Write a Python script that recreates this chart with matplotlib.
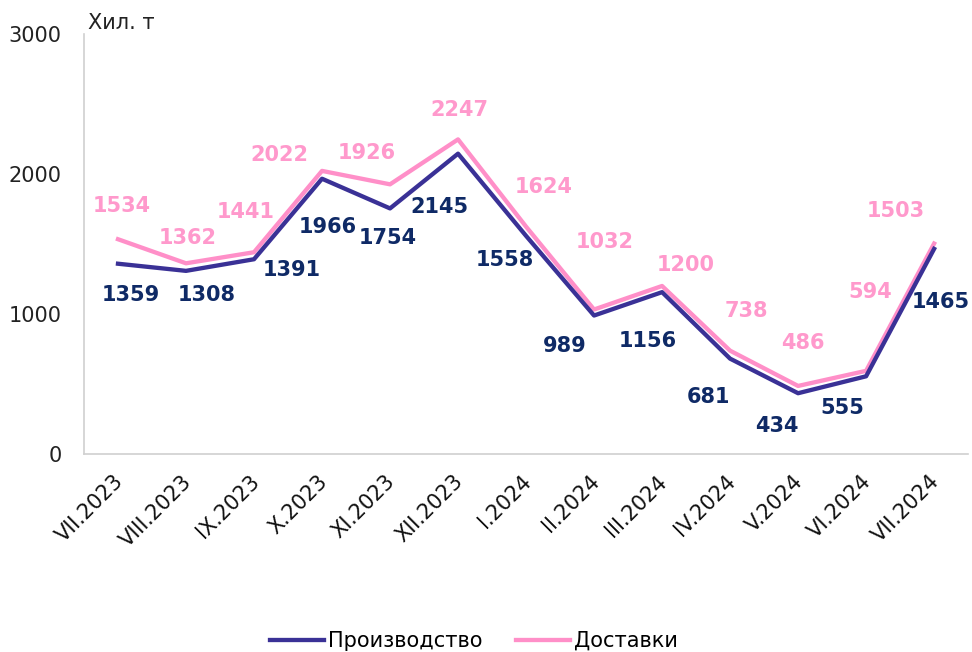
import matplotlib
matplotlib.use("Agg")
import matplotlib.pyplot as plt
from matplotlib.transforms import ScaledTranslation

months = ["VII.2023", "VIII.2023", "IX.2023", "X.2023", "XI.2023", "XII.2023",
          "I.2024", "II.2024", "III.2024", "IV.2024", "V.2024", "VI.2024", "VII.2024"]
production = [1359, 1308, 1391, 1966, 1754, 2145, 1558, 989, 1156, 681, 434, 555, 1465]
deliveries = [1534, 1362, 1441, 2022, 1926, 2247, 1624, 1032, 1200, 738, 486, 594, 1503]

# label offsets in pixels (dx, dy)
prod_off = [(13, -31), (21, -24), (38, -11), (6, -48), (-2, -30), (-19, -53), (-21, -24),
            (-29, -30), (-14, -49), (-22, -38), (-21, -33), (-24, -32), (7, -53)]
deliv_off = [(4, 33), (2, 25), (-8, 40), (-43, 16), (-23, 31), (1, 29), (18, 40),
             (11, 68), (24, 21), (16, 40), (5, 43), (4, 79), (-38, 33)]

prod_color = "#3a3196"
prod_text = "#0f2a66"
deliv_color = "#ff8fc8"
deliv_text = "#ff99cc"

fig = plt.figure(figsize=(9.72, 6.52), dpi=100)
ax = fig.add_axes([0.0864, 0.3037, 0.9096, 0.6442])

x = list(range(len(months)))
ax.plot(x, production, color=prod_color, lw=3.1, label="Производство", clip_on=False,
        solid_joinstyle="round", zorder=3)
ax.plot(x, deliveries, color=deliv_color, lw=3.1, label="Доставки", clip_on=False,
        solid_joinstyle="round", zorder=2)

for xi, v, (dx, dy) in zip(x, production, prod_off):
    ax.annotate(str(v), (xi, v), xytext=(dx, dy), textcoords="offset pixels",
                ha="center", va="center", fontsize=15, fontweight="bold", color=prod_text)
for xi, v, (dx, dy) in zip(x, deliveries, deliv_off):
    ax.annotate(str(v), (xi, v), xytext=(dx, dy), textcoords="offset pixels",
                ha="center", va="center", fontsize=15, fontweight="bold", color=deliv_text)

ax.set_xlim(-0.5, len(months) - 0.5)
ax.set_ylim(0, 3000)
ax.set_yticks([0, 1000, 2000, 3000])
ax.set_xticks(x)
ax.set_xticklabels(months, rotation=45, ha="right", va="top", rotation_mode="anchor",
                   fontsize=15)
ax.tick_params(axis="y", length=0, pad=16, labelsize=15, labelcolor="#222222")
ax.tick_params(axis="x", length=0, pad=6, labelcolor="#111111")
shift = ScaledTranslation(-5 / 100, -9 / 100, fig.dpi_scale_trans)
for lab in ax.get_xticklabels():
    lab.set_transform(lab.get_transform() + shift)

for s in ["top", "right"]:
    ax.spines[s].set_visible(False)
for s in ["left", "bottom"]:
    ax.spines[s].set_color("#d0d0d0")
    ax.spines[s].set_linewidth(1.2)

fig.text(0.091, 0.965, "Хил. т", fontsize=15, color="#222222", va="center", ha="left")

fig.legend(loc="center", bbox_to_anchor=(0.4877, 0.0169), ncol=2, frameon=False,
           fontsize=15, handlelength=2.6, handletextpad=0.2, columnspacing=1.6)

fig.savefig("out.png", dpi=100)
